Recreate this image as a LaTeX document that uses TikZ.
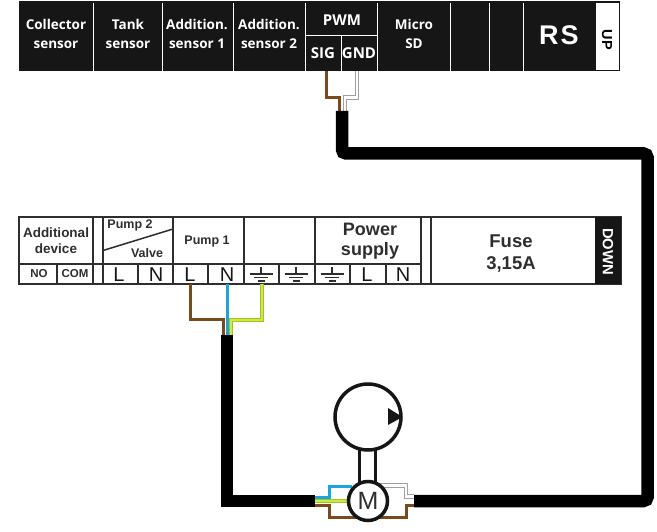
\documentclass[tikz,border=0pt]{standalone}
\usepackage{fontspec}
\setmainfont{Liberation Sans}
\newfontfamily\topfont{Open Sans}
\usetikzlibrary{arrows.meta, positioning}

\definecolor{stripblack}{HTML}{161616}
\definecolor{frame}{HTML}{2E2E2E}
\definecolor{wirebrown}{HTML}{7A4A1C}
\definecolor{wireblue}{HTML}{1CA5DC}
\definecolor{wiregreen}{HTML}{9CC81C}
\definecolor{wirelime}{HTML}{D2E84A}
\definecolor{wiregray}{HTML}{A0A0A0}

\begin{document}
\begin{tikzpicture}[x=1pt, y=-1pt]

  % Define styles
  \tikzstyle{toplabel} = [text=white, align=center, inner sep=0pt, font=\topfont\bfseries\fontsize{13.5}{19}\selectfont]
  \tikzstyle{pwmlabel} = [text=white, inner sep=0pt, font=\topfont\bfseries\fontsize{15}{15}\selectfont]
  \tikzstyle{lowlabel} = [text=frame, align=center, inner sep=0pt, font=\bfseries\fontsize{12.5}{16}\selectfont]
  \tikzstyle{biglabel} = [text=frame, align=center, inner sep=0pt, font=\bfseries\fontsize{18}{20.5}\selectfont]
  \tikzstyle{pinlabel} = [text=stripblack, inner sep=0pt, font=\fontsize{20}{20}\selectfont]
  \tikzstyle{sep} = [draw=white, line width=1pt]
  \tikzstyle{grid} = [draw=frame, line width=1.5pt]
  \tikzstyle{cable} = [draw=black, line width=12.5pt]
  \tikzstyle{wire} = [line width=3pt]
  \tikzstyle{greenwire} = [draw=wiregreen, line width=1.3pt, double=wirelime, double distance=1.6pt]
  \tikzstyle{whitewire} = [draw=wiregray, line width=0.9pt, double=white, double distance=2.4pt]
  \tikzstyle{symbol} = [circle, draw=stripblack, fill=white, inner sep=0pt]

  \useasboundingbox (0,0) rectangle (657,532);

  % Upper strip
  \node[fill=stripblack, minimum width=601pt, minimum height=70pt, inner sep=0pt] (topstrip) at (319.5,36) {};
  \foreach \x in {93,162,233,305,377,450,489,523} {
    \draw[sep] (\x,3) -- (\x,71);
  }
  \draw[sep] (305,36) -- (377,36);
  \draw[sep] (341,36) -- (341,71);
  \node[fill=white, minimum width=23pt, minimum height=66.5pt, inner sep=0pt] (upbox) at (607.5,36.5) {};

  \node[toplabel] (collector) at (56,34) {Collector\\sensor};
  \node[toplabel] (tank) at (128,34) {Tank\\sensor};
  \node[toplabel] (add1) at (197,34) {Addition.\\sensor 1};
  \node[toplabel] (add2) at (269,34) {Addition.\\sensor 2};
  \node[pwmlabel] (pwm) at (342,20) {PWM};
  \node[pwmlabel] (sig) at (323,53) {SIG};
  \node[pwmlabel] (gnd) at (359,53) {GND};
  \node[toplabel] (sd) at (414,34) {Micro\\SD};
  \node[text=white, inner sep=0pt, font=\bfseries\fontsize{27}{27}\selectfont] (rs) at (559,35) {R\kern2pt S};
  \node[inner sep=0pt, rotate=-90, font=\bfseries\fontsize{14.5}{14.5}\selectfont] (up) at (607,40) {UP};

  % Lower strip
  \draw[grid] (19,217) rectangle (621,284);
  \node[fill=stripblack, minimum width=26pt, minimum height=67pt, inner sep=0pt] (downbox) at (608,250.5) {};
  \foreach \x in {93,103,173,244,315,421,431} {
    \draw[grid] (\x,217) -- (\x,284);
  }
  \foreach \x in {57,138,208,279,350,386} {
    \draw[grid] (\x,264) -- (\x,284);
  }
  \draw[grid] (19,264) -- (421,264);
  \draw[grid] (103,250.5) -- (173,229);

  \node[lowlabel, font=\bfseries\fontsize{13.5}{16}\selectfont] (additional) at (56,241) {Additional\\device};
  \node[lowlabel, font=\bfseries\fontsize{11.5}{11.5}\selectfont] (no) at (39,274) {NO};
  \node[lowlabel, font=\bfseries\fontsize{11.5}{11.5}\selectfont] (com) at (75,274) {COM};
  \node[lowlabel] (pump2) at (130,225) {Pump 2};
  \node[lowlabel] (valve) at (147,253.5) {Valve};
  \node[lowlabel] (pump1) at (207,241) {Pump 1};
  \node[biglabel] (power) at (370,241) {Power\\supply};
  \node[biglabel, font=\bfseries\fontsize{18.5}{22}\selectfont] (fuse) at (511,253.5) {Fuse\\3,15A};
  \node[text=white, inner sep=0pt, rotate=-90, font=\bfseries\fontsize{14.8}{14.8}\selectfont] (down) at (608,251.5) {DOWN};

  \node[pinlabel] (pl) at (119,274.5) {L};
  \node[pinlabel] (pn) at (156,274.5) {N};
  \node[pinlabel] (ml) at (190,274.5) {L};
  \node[pinlabel] (mn) at (227,274.5) {N};
  \node[pinlabel] (sl) at (367,274.5) {L};
  \node[pinlabel] (sn) at (403,274.5) {N};

  % Ground marks
  \foreach \x in {261,296,332} {
    \draw[frame, line width=1.5pt] (\x,267) -- (\x,274);
    \draw[frame, line width=1.5pt] (\x-11.5,274) -- (\x+11.5,274);
    \draw[frame, line width=1.5pt] (\x-7,277.5) -- (\x+7,277.5);
    \draw[frame, line width=2pt] (\x-3.5,281) -- (\x+3.5,281);
  }

  % Named wire ends
  \coordinate (sigpin) at (326,71);
  \coordinate (gndpin) at (357,71);
  \coordinate (sigcable) at (339,111);
  \coordinate (gndcable) at (345,111);
  \coordinate (brownpin) at (190,284);
  \coordinate (bluepin) at (227,284);
  \coordinate (greenpin) at (262,284);
  \coordinate (browncable) at (223,336);
  \coordinate (bluecable) at (227,336);
  \coordinate (greencable) at (231,336);
  \coordinate (cablea) at (342,111);
  \coordinate (cableb) at (227,335);
  \coordinate (cablec) at (315,501);
  \coordinate (cabled) at (414,501);

  % Pump and motor
  \node[symbol, line width=3.5pt, minimum size=66pt] (pump) at (368,417) {};
  \fill[stripblack] (402.5,417) -- (388,408) -- (388,425) -- cycle;
  \coordinate (shaftl) at (359,450);
  \coordinate (shaftr) at (375,450);
  \draw[stripblack, line width=3pt] (shaftl) -- (359,485);
  \draw[stripblack, line width=3pt] (shaftr) -- (375,485);

  % Thin wires at the upper strip
  \draw[wire, wirebrown] (sigpin) -- (326,97.5) -- (339,97.5) -- (sigcable);
  \draw[whitewire] (gndpin) -- (357,97.5) -- (345,97.5) -- (gndcable);

  % Thin wires at the lower strip
  \draw[wire, wirebrown] (brownpin) -- (190,320) -- (223,320) -- (browncable);
  \draw[wire, wireblue] (bluepin) -- (bluecable);
  \draw[greenwire] (greenpin) -- (262,320) -- (231,320) -- (greencable);

  % Thin wires at the motor
  \draw[wire, wireblue] (315,497) -- (329,497) -- (329,486) -- (352,486);
  \draw[whitewire] (376,485.5) -- (406,485.5) -- (406,496.5) -- (414,496.5);
  \draw[wire, wirebrown] (315,505.5) -- (329,505.5) -- (329,517) -- (406,517) -- (406,505.5) -- (414,505.5);
  \draw[greenwire] (cablec) -- (350,501);
  \node[symbol, line width=3.5pt, minimum size=39pt, font=\fontsize{25}{25}\selectfont, text=frame] (motor) at (368,501) {M};

  % Black cables
  \draw[cable, rounded corners=4pt] (cablea) -- (342,153.5) -- (647.5,153.5) -- (647.5,501) -- (cabled);
  \draw[cable] (cableb) -- (227,501) -- (cablec);

\end{tikzpicture}
\end{document}
